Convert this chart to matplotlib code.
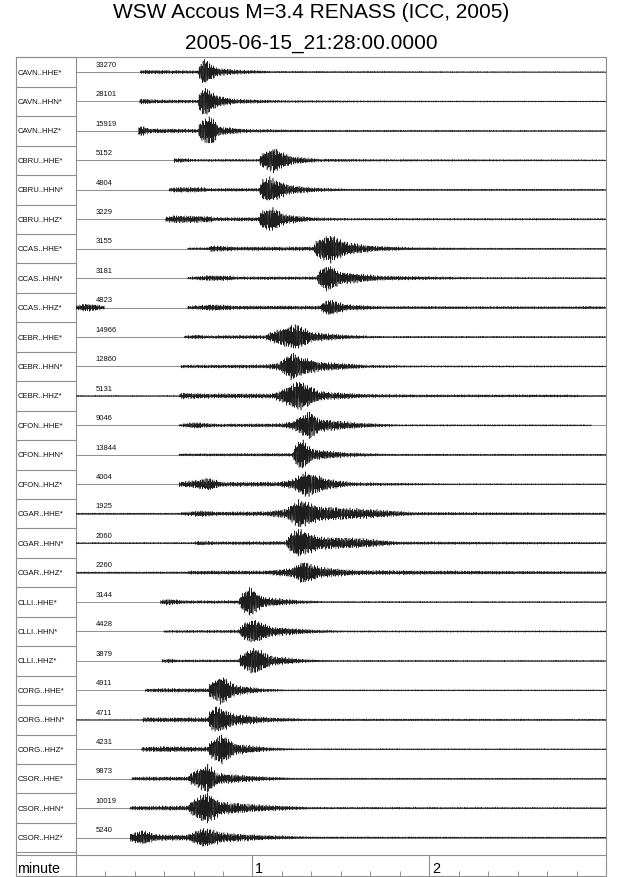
import numpy as np
import matplotlib
matplotlib.use("Agg")
import matplotlib.pyplot as plt

plt.rcParams['font.family'] = ['Liberation Sans', 'DejaVu Sans']

# ---------------- data ----------------
TITLE1 = "WSW Accous M=3.4 RENASS (ICC, 2005)"
TITLE2 = "2005-06-15_21:28:00.0000"

STATIONS = ["CAVN"] * 3 + ["CBRU"] * 3 + ["CCAS"] * 3 + ["CEBR"] * 3 + ["CFON"] * 3 + \
           ["CGAR"] * 3 + ["CLLI"] * 3 + ["CORG"] * 3 + ["CSOR"] * 3
CHANNELS = ["HHE", "HHN", "HHZ"] * 9
MAX_COUNTS = [33270, 28101, 15919, 5152, 4804, 3229, 3155, 3181, 4823,
              14966, 12860, 5131, 9046, 13844, 4004, 1925, 2060, 2260,
              3144, 4428, 3879, 4911, 4711, 4231, 9873, 10019, 5240]

# data windows (seconds after 21:28:00)
SEGMENTS = [
    [(21.9, 180)], [(21.6, 180)], [(21.3, 180)],
    [(33.4, 180)], [(31.6, 180)], [(30.5, 180)],
    [(38.0, 180)], [(38.0, 180)], [(0.0, 9.8), (38.0, 180)],
    [(36.8, 180)], [(35.7, 180)], [(0.0, 180)],
    [(35.1, 175)], [(35.1, 180)], [(35.1, 180)],
    [(0.0, 180)], [(0.0, 180)], [(0.0, 180)],
    [(28.8, 180)], [(29.9, 180)], [(29.3, 180)],
    [(23.6, 180)], [(0.0, 180)], [(22.4, 180)],
    [(19.0, 180)], [(18.4, 180)], [(18.4, 180)],
]

# envelope: times (s) and relative amplitude (fraction of max)
ENV_T = [
    [21.9, 23, 30, 41.4, 42.3, 43.7, 45, 48.3, 55.2, 66.7, 126, 180],
    [21.6, 23, 27.6, 41.4, 42.3, 44.3, 46, 48.3, 54, 69, 103.5, 180],
    [21.3, 23, 25.3, 41.4, 42.3, 44.3, 46.6, 48.3, 57.5, 80.5, 180],
    [33.4, 38, 40, 62.1, 63, 67.3, 70, 73.6, 82.8, 103.5, 180],
    [31.6, 34.5, 43.7, 45, 62.1, 63.3, 65.6, 69, 72.5, 80.5, 92, 180],
    [30.5, 33.4, 46, 47, 62.1, 62.7, 66.7, 71.3, 80.5, 92, 180],
    [38, 44.9, 46, 52.9, 54, 80.5, 81.7, 86.3, 92, 101.2, 115, 138, 180],
    [38, 44.9, 52.9, 54, 81.7, 82.8, 85.7, 89.7, 103.5, 138, 180],
    [0, 3.5, 6.9, 9.8, 38, 46, 52.9, 54, 83, 84, 86.3, 92, 103.5, 170, 176, 180],
    [36.8, 41.4, 44, 64.4, 66, 74.8, 80.5, 92, 103.5, 180],
    [35.7, 64.4, 69, 73.6, 76, 82.8, 98.9, 115, 180],
    [0, 35, 35.7, 46, 66.7, 70, 75.9, 82.8, 97.8, 115, 170, 172, 180],
    [35.1, 40.3, 48.3, 69, 73.6, 79.4, 82.8, 97.8, 109.3, 175],
    [35.1, 73.6, 74.2, 76.5, 80.5, 92, 105.8, 180],
    [35.1, 40.3, 45.4, 49.5, 69, 73.6, 78.2, 85.1, 94.3, 126.5, 180],
    [0, 35.7, 36, 42.6, 48.3, 64.4, 71.3, 75.9, 82.8, 98.9, 115, 180],
    [0, 40, 42, 48.3, 71.3, 72.5, 75.3, 82.8, 97.8, 109.3, 180],
    [0, 38, 38.5, 64.4, 73.6, 77.1, 82.8, 95.5, 180],
    [28.8, 31, 38, 55.2, 56.4, 59.2, 62, 64.4, 76, 85.1, 180],
    [29.9, 55.2, 56.9, 60.4, 66.7, 80.5, 92, 180],
    [29.3, 32, 34.5, 55.2, 55.8, 60.4, 66.7, 78.2, 86.3, 180],
    [23.6, 30, 44.9, 45.4, 49.5, 54.1, 63.3, 71.3, 180],
    [0, 22.5, 23, 44.9, 45.4, 47.7, 54.1, 66.7, 78.2, 180],
    [22.4, 30, 44.9, 45.4, 49.5, 54.1, 65.6, 74.8, 180],
    [19, 25, 38, 39.1, 44.9, 48.3, 62.1, 74.8, 180],
    [18.4, 30, 38, 39.1, 44.3, 49.5, 64.4, 80, 180],
    [18.4, 23, 27.6, 38, 40, 43.7, 50.6, 64.4, 80.5, 180],
]
ENV_A = [
    [0.10, 0.13, 0.12, 0.10, 0.50, 0.85, 0.60, 0.25, 0.15, 0.06, 0.04, 0.03],
    [0.15, 0.18, 0.12, 0.10, 0.70, 0.90, 0.60, 0.35, 0.16, 0.08, 0.05, 0.035],
    [0.30, 0.30, 0.15, 0.12, 0.60, 0.80, 0.90, 0.30, 0.12, 0.06, 0.04],
    [0.15, 0.12, 0.08, 0.08, 0.40, 0.80, 0.50, 0.25, 0.10, 0.07, 0.05],
    [0.10, 0.18, 0.15, 0.10, 0.10, 0.60, 0.80, 0.55, 0.30, 0.15, 0.06, 0.05],
    [0.15, 0.25, 0.20, 0.12, 0.12, 0.50, 0.75, 0.30, 0.12, 0.07, 0.06],
    [0.07, 0.08, 0.20, 0.15, 0.12, 0.13, 0.50, 0.90, 0.40, 0.18, 0.08, 0.05, 0.04],
    [0.07, 0.18, 0.15, 0.10, 0.10, 0.50, 0.85, 0.40, 0.15, 0.06, 0.05],
    [0.15, 0.25, 0.20, 0.10, 0.10, 0.20, 0.15, 0.12, 0.12, 0.35, 0.50, 0.20, 0.09, 0.07, 0.10, 0.06],
    [0.08, 0.15, 0.10, 0.12, 0.30, 0.80, 0.30, 0.13, 0.06, 0.05],
    [0.10, 0.12, 0.25, 0.90, 0.60, 0.30, 0.10, 0.06, 0.05],
    [0.04, 0.04, 0.20, 0.15, 0.15, 0.40, 0.95, 0.30, 0.12, 0.09, 0.08, 0.05, 0.04],
    [0.07, 0.20, 0.10, 0.12, 0.25, 0.90, 0.40, 0.15, 0.06, 0.05],
    [0.08, 0.10, 0.50, 1.00, 0.35, 0.15, 0.06, 0.05],
    [0.15, 0.25, 0.40, 0.15, 0.15, 0.30, 0.80, 0.35, 0.12, 0.05, 0.04],
    [0.05, 0.05, 0.10, 0.20, 0.12, 0.15, 0.30, 0.90, 0.45, 0.30, 0.10, 0.06],
    [0.05, 0.06, 0.15, 0.10, 0.12, 0.50, 0.90, 0.40, 0.30, 0.10, 0.06],
    [0.05, 0.06, 0.12, 0.12, 0.30, 0.70, 0.35, 0.15, 0.07],
    [0.12, 0.20, 0.10, 0.10, 0.50, 0.95, 0.50, 0.30, 0.12, 0.05, 0.04],
    [0.08, 0.10, 0.50, 0.75, 0.30, 0.12, 0.06, 0.05],
    [0.10, 0.15, 0.08, 0.08, 0.35, 0.85, 0.30, 0.10, 0.05, 0.04],
    [0.10, 0.13, 0.12, 0.40, 0.90, 0.35, 0.12, 0.05, 0.04],
    [0.03, 0.03, 0.15, 0.15, 0.50, 0.85, 0.35, 0.15, 0.07, 0.05],
    [0.15, 0.18, 0.15, 0.45, 0.95, 0.35, 0.12, 0.05, 0.04],
    [0.10, 0.13, 0.12, 0.35, 0.90, 0.35, 0.15, 0.05, 0.04],
    [0.12, 0.15, 0.15, 0.40, 1.00, 0.40, 0.20, 0.07, 0.05],
    [0.25, 0.45, 0.20, 0.18, 0.35, 0.60, 0.30, 0.15, 0.06, 0.04],
]

TIME_SPAN_S = 180
MAJOR_MIN = [1, 2]
X_LABEL = "minute"

# ---------------- layout (pixels) ----------------
W, H = 640, 878
L, R = 16, 606
T, ROWS_B, AX_T, B = 58.3, 853.3, 856.0, 876.7
LC = 75.7
GRID = '#8e8e8e'

fig = plt.figure(figsize=(W / 100, H / 100), dpi=100)


def fx(px):
    return px / W


def fy(py):
    return 1 - py / H


bg = fig.add_axes([0, 0, 1, 1])
bg.set_xlim(0, W)
bg.set_ylim(H, 0)
bg.axis('off')

n = len(STATIONS)
pitch = (ROWS_B - T) / n

bg.plot([L, R, R, L, L], [T, T, B, B, T], color=GRID, lw=0.8)
bg.plot([LC, LC], [T, B], color=GRID, lw=0.8)
for k in range(n + 1):
    bg.plot([L, LC], [T + k * pitch] * 2, color=GRID, lw=0.8)
bg.plot([L, R], [AX_T, AX_T], color=GRID, lw=0.8)

for k in range(n):
    yb = T + (k + 0.5) * pitch
    bg.text(17.5, yb, f"{STATIONS[k]}..{CHANNELS[k]}*", fontsize=5.6,
            ha='left', va='center', color='#111111')
    bg.text(95.5, T + k * pitch + 7.0, str(MAX_COUNTS[k]), fontsize=5.5,
            ha='left', va='center', color='#111111')

bg.text(311.5, 18.3, TITLE1, fontsize=15, ha='center', va='baseline')
bg.text(311.5, 48.3, TITLE2, fontsize=15, ha='center', va='baseline')
bg.text(17.0, 873.3, X_LABEL, fontsize=10.3, ha='left', va='baseline')

# ---------------- traces ----------------
ax = fig.add_axes([fx(LC), fy(ROWS_B), fx(R) - fx(LC), (ROWS_B - T) / H])
ax.set_xlim(0, TIME_SPAN_S)
ax.set_ylim(n, 0)
ax.axis('off')

AMP = 0.58  # fraction of a row reached by the largest swing


def texture(t, k, env):
    # rendering texture for the unreadable high-frequency wiggle
    ph = 0.37 * k + 0.5
    c = np.sin(2 * np.pi * 3.1 * t + 2.2 * np.sin(2 * np.pi * 0.17 * t + ph))
    c += 0.6 * np.sin(2 * np.pi * 4.7 * t + 1.7 * ph)
    c *= (0.55 + 0.45 * np.abs(np.sin(2 * np.pi * 0.43 * t + 1.3 * ph)))
    c = c / 1.6
    p = 1.0 - 0.4 * np.clip(env / 0.5, 0, 1)
    return np.sign(c) * np.abs(c) ** p


for k in range(n):
    ax.axhline(k + 0.5, color=GRID, lw=0.7, zorder=1)
    for (s0, s1) in SEGMENTS[k]:
        t = np.arange(s0, s1, 0.05)
        env = np.interp(t, ENV_T[k], ENV_A[k])
        y = k + 0.5 - AMP * env * texture(t, k, env)
        ax.plot(t, y, color='#1e1e1e', lw=0.38, zorder=2)

# ---------------- time axis ----------------
tax = fig.add_axes([fx(LC), fy(B), fx(R) - fx(LC), (B - AX_T) / H])
tax.set_xlim(0, TIME_SPAN_S / 60)
tax.set_ylim(0, 1)
for s in tax.spines.values():
    s.set_visible(False)
tax.patch.set_alpha(0)
minor = [m / 6 for m in range(1, int(TIME_SPAN_S / 10)) if m % 6 != 0]
tax.set_xticks(minor)
tax.set_xticklabels([])
tax.set_yticks([])
tax.tick_params(axis='x', direction='in', length=3.6, width=0.7, color=GRID)
for m in MAJOR_MIN:
    tax.axvline(m, color=GRID, lw=0.8)
    tax.annotate(str(m), (m, 0.0), xytext=(2.0, 2.6), textcoords='offset points',
                 fontsize=10.3, ha='left', va='baseline')

fig.savefig("out.png", dpi=100)
